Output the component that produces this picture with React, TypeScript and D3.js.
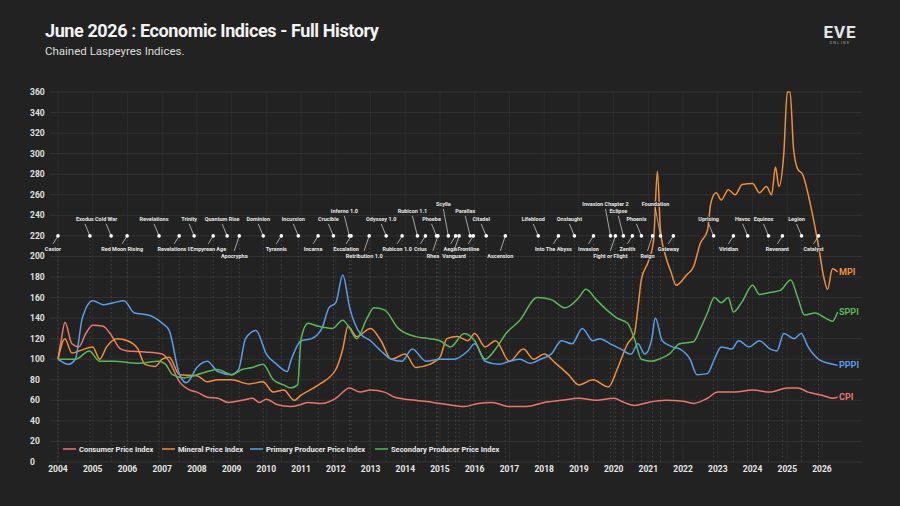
import * as d3 from 'd3';

const yTicks = [0, 20, 40, 60, 80, 100, 120, 140, 160, 180, 200, 220, 240, 260, 280, 300, 320, 340, 360];
const years = d3.range(2004, 2027);

const cpi: [number, number][] = [
  [2004.0, 100], [2004.1, 120], [2004.2, 136], [2004.4, 115], [2004.6, 112], [2004.8, 125], [2005.0, 133], [2005.3, 132],
  [2005.5, 125], [2005.8, 110], [2006.0, 108], [2006.5, 107], [2007.0, 105], [2007.2, 98], [2007.5, 78], [2007.8, 70],
  [2008.0, 68], [2008.3, 63], [2008.6, 62], [2008.9, 58], [2009.3, 60], [2009.6, 62], [2009.8, 58], [2010.0, 61],
  [2010.3, 56], [2010.7, 54], [2011.0, 56], [2011.2, 58], [2011.6, 57], [2012.0, 62], [2012.4, 72], [2012.7, 68],
  [2013.0, 70], [2013.4, 68], [2013.7, 63], [2014.3, 60], [2014.8, 58], [2015.2, 56], [2015.7, 54], [2016.1, 57],
  [2016.5, 58], [2017.0, 54], [2017.5, 54], [2018.0, 58], [2018.5, 60], [2019.0, 62], [2019.5, 60], [2020.0, 62],
  [2020.3, 58], [2020.6, 55], [2021.0, 58], [2021.5, 60], [2022.0, 59], [2022.3, 57], [2022.7, 62], [2023.0, 68],
  [2023.5, 68], [2024.0, 70], [2024.5, 68], [2025.0, 72], [2025.3, 72], [2025.6, 68], [2026.0, 65], [2026.3, 62], [2026.45, 63],
];

const mpi: [number, number][] = [
  [2004.0, 100], [2004.2, 120], [2004.4, 106], [2004.6, 108], [2005.0, 112], [2005.2, 100], [2005.4, 112], [2005.7, 120],
  [2006.0, 118], [2006.3, 110], [2006.5, 95], [2006.8, 93], [2007.0, 100], [2007.2, 102], [2007.5, 85], [2008.0, 84],
  [2008.3, 78], [2008.6, 80], [2009.0, 80], [2009.5, 76], [2009.9, 78], [2010.2, 68], [2010.5, 70], [2010.8, 60],
  [2011.0, 65], [2011.5, 75], [2012.0, 90], [2012.2, 110], [2012.35, 132], [2012.6, 122], [2013.0, 130], [2013.3, 118],
  [2013.6, 100], [2014.0, 105], [2014.3, 92], [2014.7, 95], [2015.0, 102], [2015.2, 120], [2015.5, 122], [2015.8, 118],
  [2016.0, 125], [2016.3, 112], [2016.6, 118], [2017.0, 98], [2017.4, 110], [2017.7, 100], [2018.0, 105], [2018.3, 97],
  [2018.7, 85], [2019.0, 75], [2019.4, 80], [2019.85, 73], [2020.1, 90], [2020.4, 115], [2020.6, 125], [2020.7, 150],
  [2020.8, 178], [2021.0, 195], [2021.15, 215], [2021.26, 283], [2021.35, 225], [2021.5, 200], [2021.65, 185], [2021.8, 172],
  [2022.1, 182], [2022.3, 190], [2022.5, 213], [2022.7, 225], [2022.8, 252], [2022.95, 262], [2023.1, 255], [2023.3, 265],
  [2023.5, 260], [2023.7, 270], [2024.0, 271], [2024.2, 262], [2024.4, 268], [2024.55, 260], [2024.66, 287], [2024.76, 268],
  [2024.9, 300], [2025.0, 360], [2025.08, 360], [2025.18, 305], [2025.3, 285], [2025.44, 280], [2025.67, 250], [2025.9, 210],
  [2026.05, 180], [2026.16, 168], [2026.3, 188], [2026.45, 185],
];

const pppi: [number, number][] = [
  [2004.0, 100], [2004.3, 95], [2004.5, 100], [2004.7, 140], [2005.0, 157], [2005.3, 153], [2005.6, 155], [2005.9, 157],
  [2006.2, 145], [2006.6, 143], [2007.0, 135], [2007.2, 128], [2007.5, 85], [2007.7, 77], [2008.0, 92], [2008.3, 98],
  [2008.6, 88], [2009.0, 85], [2009.2, 90], [2009.4, 120], [2009.7, 128], [2010.0, 105], [2010.3, 95], [2010.6, 88],
  [2010.7, 98], [2011.0, 118], [2011.3, 120], [2011.6, 130], [2011.8, 150], [2012.0, 155], [2012.2, 182], [2012.4, 150],
  [2012.7, 125], [2013.0, 118], [2013.3, 108], [2013.6, 100], [2013.9, 98], [2014.2, 110], [2014.6, 98], [2015.0, 100],
  [2015.4, 100], [2015.8, 108], [2016.0, 115], [2016.3, 98], [2016.7, 95], [2017.0, 98], [2017.3, 100], [2017.6, 96],
  [2017.9, 100], [2018.2, 105], [2018.5, 118], [2018.8, 115], [2019.1, 130], [2019.4, 118], [2019.6, 120], [2019.9, 115],
  [2020.2, 110], [2020.5, 105], [2020.7, 115], [2020.9, 105], [2021.1, 120], [2021.2, 140], [2021.4, 118], [2021.7, 112],
  [2021.9, 110], [2022.2, 100], [2022.4, 85], [2022.7, 86], [2022.9, 100], [2023.1, 112], [2023.4, 110], [2023.6, 118],
  [2023.9, 112], [2024.2, 118], [2024.5, 110], [2024.7, 108], [2024.9, 125], [2025.2, 120], [2025.4, 125], [2025.6, 112],
  [2025.9, 100], [2026.2, 96], [2026.45, 94],
];

const sppi: [number, number][] = [
  [2004.0, 100], [2004.5, 100], [2004.9, 108], [2005.2, 98], [2005.6, 98], [2006.3, 96], [2006.9, 98], [2007.1, 95],
  [2007.3, 85], [2007.6, 82], [2008.0, 85], [2008.3, 88], [2008.6, 90], [2009.0, 85], [2009.3, 90], [2009.6, 92],
  [2009.9, 95], [2010.2, 80], [2010.5, 75], [2010.7, 72], [2010.9, 75], [2011.0, 120], [2011.2, 135], [2011.5, 132],
  [2011.9, 130], [2012.2, 138], [2012.4, 130], [2012.6, 120], [2012.9, 140], [2013.1, 150], [2013.4, 148], [2013.8, 130],
  [2014.3, 122], [2014.7, 120], [2015.0, 118], [2015.3, 112], [2015.7, 125], [2016.0, 118], [2016.3, 100], [2016.6, 110],
  [2016.9, 125], [2017.3, 138], [2017.8, 160], [2018.2, 158], [2018.6, 150], [2019.0, 160], [2019.2, 168], [2019.5, 158],
  [2019.8, 148], [2020.1, 140], [2020.4, 135], [2020.6, 120], [2020.8, 100], [2021.1, 98], [2021.3, 100], [2021.6, 105],
  [2021.9, 115], [2022.3, 117], [2022.5, 130], [2022.7, 145], [2022.9, 160], [2023.1, 155], [2023.3, 160], [2023.45, 146],
  [2023.7, 156], [2024.0, 172], [2024.2, 163], [2024.5, 165], [2024.8, 167], [2025.1, 177], [2025.3, 160], [2025.5, 143],
  [2025.8, 145], [2026.1, 140], [2026.3, 137], [2026.45, 146],
];

// expansion name, date, label level (1 above, 2 higher, 3 highest, -1 below, -2 lower)
const events: [string, number, number][] = [
  ['Castor', 2004.0, -1], ['Exodus', 2004.92, 1], ['Cold War', 2005.53, 1], ['Red Moon Rising', 2005.99, -1],
  ['Revelations', 2006.91, 1], ['Revelations II', 2007.49, -1], ['Trinity', 2007.92, 1], ['Empyrean Age', 2008.47, -1],
  ['Quantum Rise', 2008.87, 1], ['Apocrypha', 2009.22, -2], ['Dominion', 2009.91, 1], ['Tyrannis', 2010.43, -1],
  ['Incursion', 2010.92, 1], ['Incarna', 2011.49, -1], ['Crucible', 2011.93, 1], ['Inferno 1.0', 2012.39, 2],
  ['Escalation', 2012.44, -1], ['Retribution 1.0', 2012.96, -2], ['Odyssey 1.0', 2013.45, 1], ['Rubicon 1.0', 2013.91, -1],
  ['Rubicon 1.1', 2014.35, 2], ['Crius', 2014.58, -1], ['Phoebe', 2014.9, 1], ['Rhea', 2014.94, -2],
  ['Scylla', 2015.24, 3], ['Aegis', 2015.45, -1], ['Vanguard', 2015.55, -2], ['Parallax', 2015.87, 2],
  ['Frontline', 2015.96, -1], ['Citadel', 2016.33, 1], ['Ascension', 2016.88, -2], ['Lifeblood', 2017.83, 1],
  ['Into The Abyss', 2018.41, -1], ['Onslaught', 2018.87, 1], ['Invasion', 2019.42, -1], ['Invasion Chapter 2', 2019.91, 3],
  ['Fight or Flight', 2020.05, -2], ['Eclipse', 2020.28, 2], ['Zenith', 2020.54, -1], ['Phoenix', 2020.8, 1],
  ['Reign', 2021.12, -2], ['Foundation', 2021.35, 3], ['Gateway', 2021.72, -1], ['Uprising', 2022.88, 1],
  ['Viridian', 2023.45, -1], ['Havoc', 2023.86, 1], ['Equinox', 2024.46, 1], ['Revenant', 2024.86, -1],
  ['Legion', 2025.41, 1], ['Catalyst', 2025.9, -1],
];

const series = [
  { name: 'Consumer Price Index', short: 'CPI', data: cpi, color: '#e8776f' },
  { name: 'Mineral Price Index', short: 'MPI', data: mpi, color: '#ef8f3c' },
  { name: 'Primary Producer Price Index', short: 'PPPI', data: pppi, color: '#5b9ee6' },
  { name: 'Secondary Producer Price Index', short: 'SPPI', data: sppi, color: '#5cb65a' },
];

const W = 900;
const H = 506;
const font = 'Roboto, sans-serif';

export default function App() {
  const x = d3.scaleLinear().domain([2004, 2026]).range([58, 822]);
  const y = d3.scaleLinear().domain([0, 360]).range([462, 92]);
  const line = d3.line<[number, number]>().x((d) => x(d[0])).y((d) => y(d[1])).curve(d3.curveMonotoneX);
  const dotY = y(220);
  const levelDy: Record<number, number> = { 1: -15, 2: -23, 3: -30, [-1]: 15, [-2]: 22 };
  const legendX = [63, 162, 250, 375];

  return (
    <svg width={W} height={H} style={{ position: 'absolute', left: 0, top: 0, background: '#222222' }} fontFamily={font}>
      <rect width={W} height={H} fill="#222222" />
      <text x={45} y={37} fill="#f2f2f2" fontSize={18} fontWeight={700} letterSpacing={-0.4}>June 2026 : Economic Indices - Full History</text>
      <text x={45} y={55} fill="#dddddd" fontSize={11.5}>Chained Laspeyres Indices.</text>
      <text x={840} y={38} fill="#e6e6e6" fontSize={17} fontWeight={700} textAnchor="middle" letterSpacing={1}>EVE</text>
      <text x={840} y={44} fill="#aaaaaa" fontSize={3.5} textAnchor="middle" letterSpacing={1.5}>ONLINE</text>

      {years.map((yr) => (
        <line key={yr} x1={x(yr)} x2={x(yr)} y1={y(360)} y2={y(0)} stroke="#2c2c2c" strokeWidth={1} />
      ))}
      {yTicks.map((t) => (
        <g key={t}>
          <line x1={50} x2={862} y1={y(t)} y2={y(t)} stroke="#323232" strokeWidth={1} />
          <text x={30} y={y(t) + 3} fill="#e0e0e0" fontSize={8.5} fontWeight={700}>{t}</text>
        </g>
      ))}

      {events.map(([name, d]) => (
        <line key={name + 'v'} x1={x(d)} x2={x(d)} y1={dotY} y2={y(0)} stroke="#555" strokeDasharray="1.5,2.5" strokeWidth={0.7} />
      ))}

      {series.map((s) => (
        <path key={s.short} d={line(s.data) || ''} fill="none" stroke={s.color} strokeWidth={1.5} />
      ))}

      {events.map(([name, d, lvl]) => {
        const cx = x(d);
        const ly = dotY + levelDy[lvl];
        const lx = cx - 5;
        return (
          <g key={name}>
            <line x1={cx} y1={dotY} x2={lx} y2={ly + (lvl > 0 ? 3 : -7)} stroke="#dddddd" strokeWidth={0.7} />
            <circle cx={cx} cy={dotY} r={1.8} fill="#ffffff" />
            <text x={lx} y={ly} fill="#e8e8e8" fontSize={5.5} fontWeight={700} textAnchor="middle" stroke="#222" strokeWidth={1.5} paintOrder="stroke">{name}</text>
          </g>
        );
      })}

      {series.map((s) => {
        const last = s.data[s.data.length - 1];
        return (
          <text key={s.short + 'l'} x={839} y={y(last[1]) + 3} fill={s.color} fontSize={9} fontWeight={700}>{s.short}</text>
        );
      })}

      {series.map((s, i) => (
        <g key={s.short + 'lg'}>
          <line x1={legendX[i]} x2={legendX[i] + 13} y1={449} y2={449} stroke={s.color} strokeWidth={1.5} />
          <text x={legendX[i] + 16} y={452} fill="#e8e8e8" fontSize={7.5} fontWeight={700}>{s.name}</text>
        </g>
      ))}

      {years.map((yr) => (
        <text key={yr + 't'} x={x(yr)} y={472} fill="#e8e8e8" fontSize={8.5} fontWeight={700} textAnchor="middle">{yr}</text>
      ))}
    </svg>
  );
}
